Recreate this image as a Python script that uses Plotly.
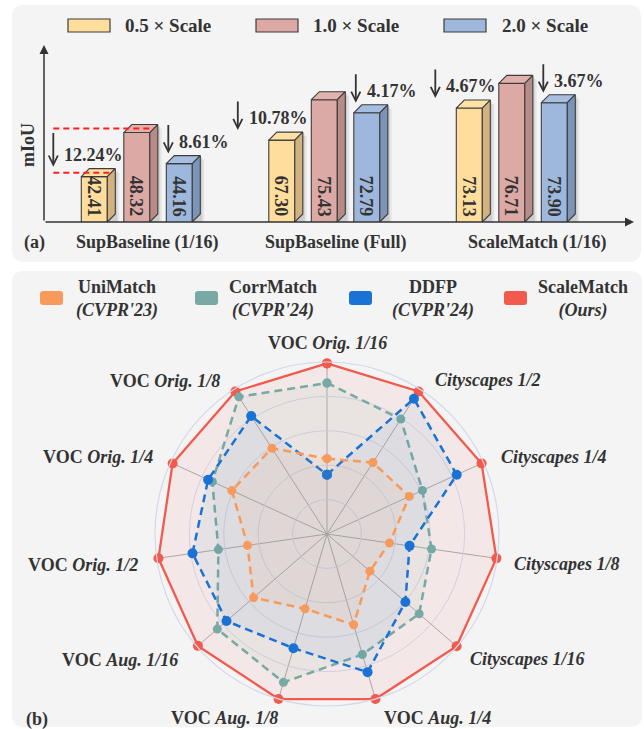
import plotly.graph_objects as go

W, H = 644, 729

# ---------------- data ----------------
groups = ["SupBaseline (1/16)", "SupBaseline (Full)", "ScaleMatch (1/16)"]
scale_names = ["0.5 × Scale", "1.0 × Scale", "2.0 × Scale"]
miou_05 = [42.41, 67.30, 73.13]
miou_10 = [48.32, 75.43, 76.71]
miou_20 = [44.16, 72.79, 73.90]
drop_05 = ["12.24%", "10.78%", "4.67%"]
drop_20 = ["8.61%", "4.17%", "3.67%"]

radar_axes = ["VOC Orig. 1/16", "Cityscapes 1/2", "Cityscapes 1/4", "Cityscapes 1/8",
              "Cityscapes 1/16", "VOC Aug. 1/4", "VOC Aug. 1/8", "VOC Aug. 1/16",
              "VOC Orig. 1/2", "VOC Orig. 1/4", "VOC Orig. 1/8"]
methods = ["UniMatch", "CorrMatch", "DDFP", "ScaleMatch"]
venues = ["(CVPR'23)", "(CVPR'24)", "(CVPR'24)", "(Ours)"]
unimatch = [43.8, 49.4, 52.6, 36.7, 33.0, 55.0, 45.3, 56.5, 46.7, 60.8, 59.3]
corrmatch = [87.8, 79.4, 61.0, 61.4, 70.9, 73.0, 89.9, 84.4, 63.8, 73.3, 94.8]
ddfp = [34.5, 93.5, 82.9, 48.5, 60.3, 83.7, 69.2, 77.3, 79.0, 76.0, 81.5]
scalematch = [99.2, 98.5, 98.8, 99.5, 99.7, 100.0, 100.0, 99.3, 99.0, 98.7, 98.5]

# ---------------- style ----------------
FONT = "Liberation Serif"
TXT = "#333333"
PANEL = "#f4f4f4"
EDGE = "#3c3c3c"
front_cols = ["#FFDD9C", "#DCA9A5", "#9DB8DC"]
side_cols = ["#D2B37F", "#B78B87", "#7B94B8"]
top_cols = ["#FFE1A6", "#E1B1AD", "#A6BFE0"]
m_cols = ["#F79A5C", "#78A9A4", "#1A73D4", "#F25A4D"]
m_fill = ["rgba(247,154,92,0.07)", "rgba(120,170,165,0.07)",
          "rgba(26,115,212,0.06)", "rgba(242,90,77,0.07)"]


def px(x):
    return x / W


def py(y):
    return 1 - y / H


# bar-panel geometry (pixels)
AX_L, AX_R, AX_B, AX_T = 44, 632, 222, 40
X0_PX, GROUP_PX = 136.8, 187.5
BAR_W_PX, BAR_STEP_PX, DEPTH = 26, 42.5, 8
y_ranges = [(36.33, 60.73), (50.82, 87.44), (56.54, 83.03)]

xr = [(AX_L - X0_PX) / GROUP_PX, (AX_R - X0_PX) / GROUP_PX]
bw = BAR_W_PX / GROUP_PX
step = BAR_STEP_PX / GROUP_PX
ddx = DEPTH / GROUP_PX
plot_h = AX_B - AX_T

fig = go.Figure()
shapes = []
annotations = []


def note(x, y, text, size=18, xanchor="center", yanchor="middle", **kw):
    d = dict(x=px(x), y=py(y), xref="paper", yref="paper", text=text, showarrow=False,
             xanchor=xanchor, yanchor=yanchor, font=dict(family=FONT, size=size, color=TXT))
    d.update(kw)
    annotations.append(d)


def rrect_path(x0, y0, x1, y1, r):
    pts = [("M", x0 + r, y0), ("L", x1 - r, y0), ("Q", x1, y0, x1, y0 + r),
           ("L", x1, y1 - r), ("Q", x1, y1, x1 - r, y1), ("L", x0 + r, y1),
           ("Q", x0, y1, x0, y1 - r), ("L", x0, y0 + r), ("Q", x0, y0, x0 + r, y0)]
    s = ""
    for p in pts:
        coords = p[1:]
        seg = []
        for i in range(0, len(coords), 2):
            seg.append(f"{px(coords[i]):.5f},{py(coords[i + 1]):.5f}")
        s += p[0] + " " + " ".join(seg) + " "
    return s + "Z"


# panel backgrounds
shapes.append(dict(type="path", xref="paper", yref="paper", path=rrect_path(12, 5, 641, 262, 12),
                   fillcolor=PANEL, line=dict(width=0), layer="below"))
shapes.append(dict(type="path", xref="paper", yref="paper", path=rrect_path(12, 271, 642, 727, 12),
                   fillcolor=PANEL, line=dict(width=0), layer="below"))

series_vals = [miou_05, miou_10, miou_20]
for g in range(3):
    yname = "y" if g == 0 else f"y{g + 1}"
    lo, hi = y_ranges[g]
    k = plot_h / (hi - lo)
    dyu = DEPTH / k
    xs = [g - step, g, g + step]
    vals = [series_vals[s][g] for s in range(3)]
    # soft shadows
    for s in range(3):
        xc, v = xs[s], vals[s]
        L, R = xc - bw / 2, xc + bw / 2
        for off, a in [(4, 0.06), (2, 0.10)]:
            ox, oy = off / GROUP_PX, off / k
            pts = [(L + ox, lo), (L + ox, v - oy), (L + ddx + ox, v + dyu - oy), (R + ddx + ox, v + dyu - oy),
                   (R + ddx + ox, lo)]
            path = "M " + " L ".join(f"{a_},{b_}" for a_, b_ in pts) + " Z"
            shapes.append(dict(type="path", xref="x", yref=yname, path=path,
                               fillcolor=f"rgba(0,0,0,{a})", line=dict(width=0), layer="below"))
    fig.add_trace(go.Bar(x=xs, y=vals, width=bw, xaxis="x", yaxis=yname,
                         marker=dict(color=front_cols, line=dict(color=EDGE, width=1.1)),
                         showlegend=False, hoverinfo="skip"))
    for s in range(3):
        xc, v = xs[s], vals[s]
        L, R = xc - bw / 2, xc + bw / 2
        fig.add_trace(go.Scatter(x=[L, R, R + ddx, L + ddx, L], y=[v, v, v + dyu, v + dyu, v],
                                 xaxis="x", yaxis=yname, mode="lines", fill="toself",
                                 fillcolor=top_cols[s], line=dict(color=EDGE, width=1.1),
                                 showlegend=False, hoverinfo="skip"))
        fig.add_trace(go.Scatter(x=[R, R + ddx, R + ddx, R, R], y=[v, v + dyu, lo + dyu, lo, v],
                                 xaxis="x", yaxis=yname, mode="lines", fill="toself",
                                 fillcolor=side_cols[s], line=dict(color=EDGE, width=1.1),
                                 showlegend=False, hoverinfo="skip"))
        annotations.append(dict(x=xc, y=lo, xref="x", yref=yname, text=f"<b>{v:.2f}</b>",
                                textangle=90, showarrow=False, xanchor="center", yanchor="bottom", yshift=3,
                                font=dict(family=FONT, size=18, color=TXT)))

    def drop(xd, yd, xshift, length, text):
        annotations.append(dict(x=xd, y=yd, xref="x", yref=yname, xshift=xshift, yshift=10,
                                text="", showarrow=True, ax=0, ay=-length, axref="pixel", ayref="pixel",
                                arrowhead=5, arrowsize=1.0, arrowwidth=1.8, arrowcolor=TXT, standoff=0))
        annotations.append(dict(x=xd, y=yd, xref="x", yref=yname, xshift=xshift + 9, yshift=22,
                                text=f"<b>{text}</b>", showarrow=False, xanchor="left", yanchor="middle",
                                font=dict(family=FONT, size=18, color=TXT)))

    L05 = xs[0] - bw / 2
    L20 = xs[2] - bw / 2
    drop(L20, vals[2], 2, 30, drop_20[g])
    if g == 0:
        length = (vals[1] - vals[0]) * k - 9
        drop(L05, vals[0], -28, length, drop_05[g])
        for s in (0, 1):
            v = vals[s]
            R = xs[s] + bw / 2
            shapes.append(dict(type="line", xref="x", yref=yname, x0=L05 - 28 / GROUP_PX, x1=R + ddx / 2,
                               y0=v + dyu / 2, y1=v + dyu / 2, layer="above",
                               line=dict(color="#ff1f1f", width=2, dash="6px,4px")))
    elif g == 1:
        drop(L05, vals[0], -31, 30, drop_05[g])
    else:
        drop(L05, vals[0], -21, 30, drop_05[g])

# axis arrows
annotations.append(dict(x=px(44), y=py(45), xref="paper", yref="paper", text="", showarrow=True,
                        ax=0, ay=177, arrowhead=2, arrowsize=1.2, arrowwidth=1.5, arrowcolor=TXT, standoff=0))
annotations.append(dict(x=px(634), y=py(222), xref="paper", yref="paper", text="", showarrow=True,
                        ax=-590, ay=0, arrowhead=2, arrowsize=1.2, arrowwidth=1.5, arrowcolor=TXT, standoff=0))
note(28, 145, "<b>mIoU</b>", textangle=-90)

# category labels and panel tags
for name, cx in zip(groups, [147, 336, 537]):
    note(cx, 243, f"<b>{name}</b>")
note(22, 243, "<b>(a)</b>", xanchor="left")
note(24, 719, "<b>(b)</b>", xanchor="left")

# legend (a)
for s, (sx, tx) in enumerate(zip([68, 256, 444], [123, 311, 500])):
    shapes.append(dict(type="rect", xref="paper", yref="paper", x0=px(sx), x1=px(sx + 42), y0=py(32), y1=py(19),
                       fillcolor=front_cols[s], line=dict(color=EDGE, width=1.2)))
    note(tx, 25.5, f"<b>{scale_names[s]}</b>", size=19, xanchor="left")

# legend (b)
for m, (sx, tx) in enumerate(zip([40, 195, 349, 504], [116.7, 273.3, 433.3, 583.3])):
    shapes.append(dict(type="path", xref="paper", yref="paper", path=rrect_path(sx, 291, sx + 23, 305, 3),
                       fillcolor=m_cols[m], line=dict(width=0)))
    note(tx, 299.5, f"<b>{methods[m]}</b><br><b><i>{venues[m]}</i></b>")

# radar
theta = radar_axes + radar_axes[:1]
radar_series = [unimatch, corrmatch, ddfp, scalematch]
for m in [3, 1, 2, 0]:
    vals = radar_series[m]
    solid = m == 3
    fig.add_trace(go.Scatterpolar(
        r=vals + vals[:1], theta=theta, mode="lines+markers", fill="toself",
        fillcolor=m_fill[m], cliponaxis=False,
        line=dict(color=m_cols[m], width=2.3 if solid else 2.5, dash="solid" if solid else "8px,5px"),
        marker=dict(size=10 if m in (3, 2) else 9, color=m_cols[m]),
        showlegend=False, hoverinfo="skip", name=methods[m]))

# radar axis labels
label_pos = [(327, 343, "center"), (433, 380, "left"), (499, 457, "left"), (512, 564, "left"),
             (468, 659, "left"), (382, 718, "left"), (280, 718, "right"), (180, 660, "right"),
             (140, 565, "right"), (155, 457, "right"), (222, 381, "right")]
for name, (lx, ly, anc) in zip(radar_axes, label_pos):
    if name.startswith("VOC "):
        txt = f"<b>VOC <i>{name[4:]}</i></b>"
    else:
        txt = f"<b><i>{name}</i></b>"
    note(lx, ly, txt, xanchor=anc)

fig.update_layout(
    width=W, height=H, margin=dict(l=0, r=0, t=0, b=0),
    paper_bgcolor="white", plot_bgcolor="rgba(0,0,0,0)",
    barmode="overlay", showlegend=False,
    xaxis=dict(domain=[px(AX_L), px(AX_R)], range=xr, visible=False, fixedrange=True),
    yaxis=dict(domain=[py(AX_B), py(AX_T)], range=list(y_ranges[0]), visible=False, anchor="x"),
    yaxis2=dict(range=list(y_ranges[1]), visible=False, overlaying="y", anchor="x"),
    yaxis3=dict(range=list(y_ranges[2]), visible=False, overlaying="y", anchor="x"),
    polar=dict(
        domain=dict(x=[px(155), px(499)], y=[py(706), py(362)]),
        bgcolor="rgba(0,0,0,0)",
        radialaxis=dict(range=[0, 100], tickvals=[20, 40, 60, 80, 100], showticklabels=False, ticks="",
                        gridcolor="#d3d9ea", gridwidth=1, showline=False),
        angularaxis=dict(rotation=90, direction="clockwise", gridcolor="#ababab", gridwidth=1,
                         linecolor="#d3d9ea", linewidth=1.2, showline=True, ticks="", showticklabels=False),
    ),
    shapes=shapes, annotations=annotations,
)

fig.write_html("out.html", config={"displayModeBar": False},
               post_script="document.body.style.margin='0px';document.body.style.overflow='hidden';")
